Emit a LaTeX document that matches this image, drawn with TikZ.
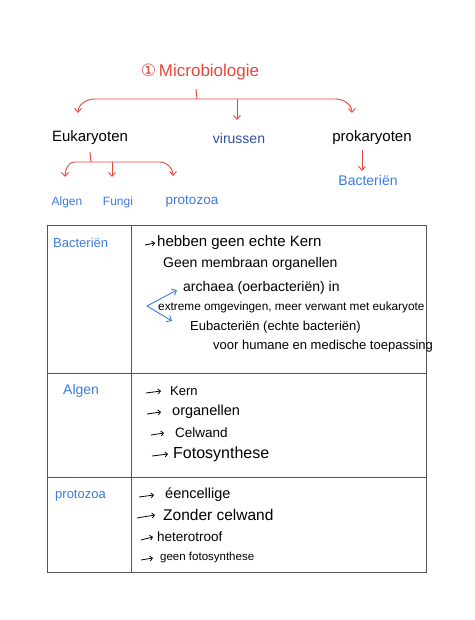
\documentclass[tikz,border=0pt]{standalone}
\usepackage{fontspec}
\setmainfont{Liberation Sans}
\newfontfamily\symfont{DejaVu Sans}
\usetikzlibrary{arrows.meta}
\definecolor{redink}{HTML}{E5473D}
\definecolor{blueink}{HTML}{3D7BDB}
\definecolor{navyink}{HTML}{2E4FA0}
\definecolor{gridline}{HTML}{555555}
\tikzset{
  fs/.style={font=\fontsize{#1}{#1}\selectfont},
  redarr/.style={draw=redink, line width=0.9pt, -{Straight Barb[length=4pt,width=7pt]}},
  redline/.style={draw=redink, line width=0.9pt},
  bluearr/.style={draw=blueink, line width=0.9pt, -{Straight Barb[length=4pt,width=7pt]}},
  blkarr/.style={draw=black, line width=0.8pt, -{Straight Barb[length=2.5pt,width=5pt]}},
  item/.style={anchor=west, inner sep=0pt, text=black},
  lab/.style={anchor=west, inner sep=0pt, text=blueink},
  grid/.style={draw=gridline, line width=0.8pt}
}
\begin{document}
\begin{tikzpicture}[x=1pt,y=-1pt]
\useasboundingbox[fill=white] (0,0) rectangle (474,620);

% title
\node[text=redink, fs=17, inner sep=0pt] (title) at (200,72) {{\symfont ①}\,Microbiologie};

% top labels
\node[fs=15, inner sep=0pt] (euk) at (90,138) {Eukaryoten};
\node[fs=14, text=navyink, inner sep=0pt] (vir) at (239,138) {virussen};
\node[fs=15, inner sep=0pt] (pro) at (372,138) {prokaryoten};
\node[fs=14, text=blueink, inner sep=0pt] (bac) at (368,180) {Bacteriën};
\node[fs=12, text=blueink, inner sep=0pt] (alg) at (67,202) {Algen};
\node[fs=12, text=blueink, inner sep=0pt] (fun) at (118,202) {Fungi};
\node[fs=13.5, text=blueink, inner sep=0pt] (prz) at (192,202) {protozoa};

% main brace
\coordinate (s0) at (196,89);
\coordinate (s1) at (197,99);
\coordinate (bl) at (95,99);
\coordinate (br) at (335,99);
\coordinate (bm) at (237,99);
\coordinate (aeuk) at (78,113);
\coordinate (avir) at (237,120);
\coordinate (apro) at (352,113);
\draw[redline] (s0) -- (s1);
\draw[redarr] (s1) -- (bl) to[out=180,in=90] (aeuk);
\draw[redarr] (s1) -- (br) to[out=0,in=90] (apro);
\draw[redarr] (bm) -- (avir);

% eukaryoten brace
\coordinate (e0) at (90,152);
\coordinate (e1) at (91,162);
\coordinate (el) at (75,162);
\coordinate (er) at (160,162);
\coordinate (em) at (112,162);
\coordinate (ealg) at (65,177);
\coordinate (efun) at (112,177);
\coordinate (eprz) at (173,176);
\draw[redline] (e0) -- (e1);
\draw[redarr] (e1) -- (el) to[out=180,in=90] (ealg);
\draw[redarr] (e1) -- (er) to[out=0,in=90] (eprz);
\draw[redarr] (em) -- (efun);

% prokaryoten arrow
\coordinate (p0) at (362,150);
\coordinate (p1) at (362,171);
\draw[redarr] (p0) -- (p1);

% table
\draw[grid] (47.5,225.5) rectangle (426,572);
\draw[grid] (131.5,225.5) -- (131.5,572);
\draw[grid] (47.5,373.5) -- (426,373.5);
\draw[grid] (47.5,477.5) -- (426,477.5);

% row 1
\node[lab, fs=13] (lbac) at (53,243) {Bacteriën};
\node[item, fs=15] (r1a) at (157,243) {hebben geen echte Kern};
\node[item, fs=14] (r1b) at (163,264) {Geen membraan organellen};
\node[item, fs=14] (r1c) at (183,288) {archaea (oerbacteriën) in};
\node[item, fs=11.8] (r1d) at (158,307) {extreme omgevingen, meer verwant met eukaryote};
\node[item, fs=13] (r1e) at (190,327) {Eubacteriën (echte bacteriën)};
\node[item, fs=13] (r1f) at (213,346) {voor humane en medische toepassing};
\coordinate (r1ar) at (145,245);
\draw[blkarr] (r1ar) -- ([xshift=-2pt]r1a.west);
\coordinate (v) at (147,306);
\coordinate (vu) at (177,290);
\coordinate (vd) at (172,321);
\draw[bluearr] (v) -- (vu);
\draw[bluearr] (v) -- (vd);

% row 2
\node[lab, fs=14] (lalg) at (63,391) {Algen};
\node[item, fs=13] (r2a) at (170,391) {Kern};
\node[item, fs=14.5] (r2b) at (172,412) {organellen};
\node[item, fs=13.5] (r2c) at (175,433) {Celwand};
\node[item, fs=16] (r2d) at (173,454) {Fotosynthese};
\coordinate (r2aa) at (146,393);
\coordinate (r2ba) at (147,414);
\coordinate (r2ca) at (151,435);
\coordinate (r2da) at (152,456);
\draw[blkarr] (r2aa) -- ([xshift=-9pt]r2a.west);
\draw[blkarr] (r2ba) -- ([xshift=-11pt]r2b.west);
\draw[blkarr] (r2ca) -- ([xshift=-11pt]r2c.west);
\draw[blkarr] (r2da) -- ([xshift=-5pt]r2d.west);

% row 3
\node[lab, fs=13] (lprz) at (55,496) {protozoa};
\node[item, fs=14.5] (r3a) at (165,495) {éencellige};
\node[item, fs=15.5] (r3b) at (163,515) {Zonder celwand};
\node[item, fs=13.5] (r3c) at (157,537) {heterotroof};
\node[item, fs=11.5] (r3d) at (160,558) {geen fotosynthese};
\coordinate (r3aa) at (139,497);
\coordinate (r3ba) at (137,518);
\coordinate (r3ca) at (141,540);
\coordinate (r3da) at (141,560);
\draw[blkarr] (r3aa) -- ([xshift=-11pt]r3a.west);
\draw[blkarr] (r3ba) -- ([xshift=-8pt]r3b.west);
\draw[blkarr] (r3ca) -- ([xshift=-4pt]r3c.west);
\draw[blkarr] (r3da) -- ([xshift=-7pt]r3d.west);
\end{tikzpicture}
\end{document}
